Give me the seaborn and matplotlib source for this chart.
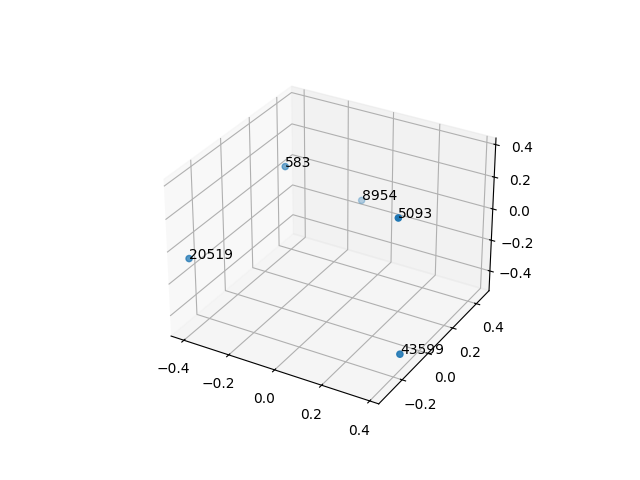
import numpy as np
import pandas as pd
import seaborn as sns
import matplotlib
matplotlib.use("Agg")
import matplotlib.pyplot as plt

# values
labels = ["583", "8954", "5093", "20519", "43599"]
xs = [-0.272, -0.131, 0.318, -0.423, 0.406]
ys = [0.156, 0.499, -0.03, -0.2865, -0.163]
zs = [0.231, -0.165, 0.28, -0.09, -0.414]

df = pd.DataFrame({"x": xs, "y": ys, "z": zs, "label": labels})

fig = plt.figure(figsize=(6.4, 4.8), dpi=100)
ax = fig.add_subplot(projection="3d")
ax.scatter(df["x"], df["y"], df["z"], color=sns.color_palette("tab10")[0])

for _, row in df.iterrows():
    ax.text(row["x"], row["y"], row["z"], row["label"])

ax.set_xlim(-0.458, 0.437)
ax.set_ylim(-0.375, 0.51)
ax.set_zlim(-0.53, 0.44)

fig.savefig("out.png", dpi=100)
